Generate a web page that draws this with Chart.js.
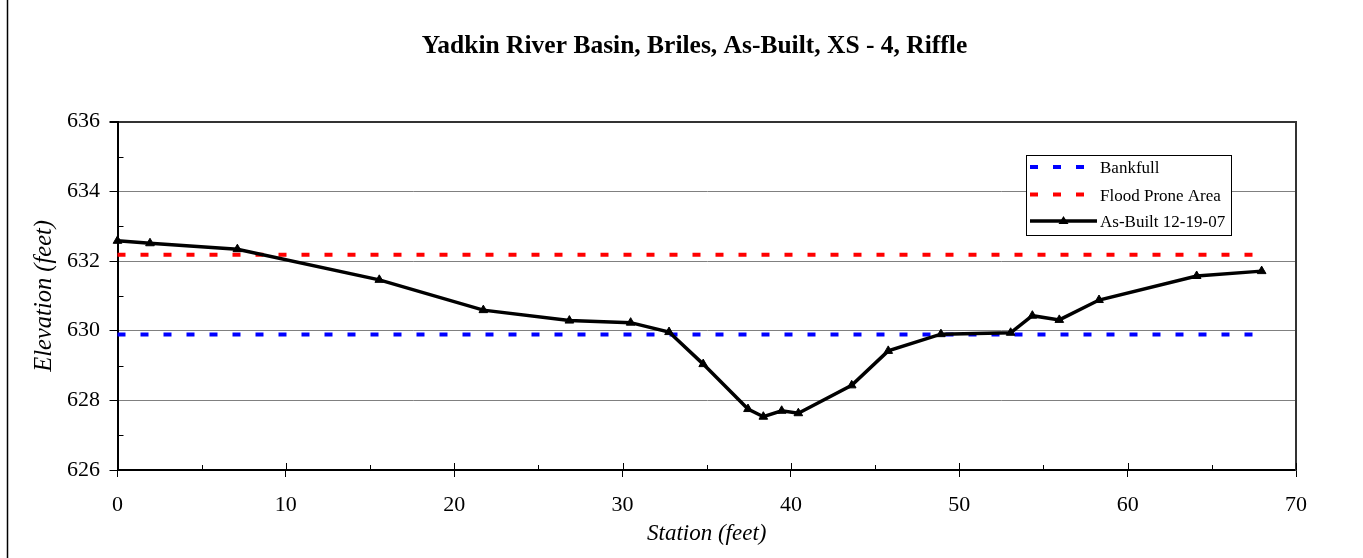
<!DOCTYPE html>
<html><head><meta charset="utf-8">
<script src="https://cdn.jsdelivr.net/npm/chart.js@4.4.1/dist/chart.umd.min.js"></script>
<style>html,body{margin:0;padding:0;background:#fff}canvas{display:block}</style>
</head><body>
<canvas id="c" width="1363" height="558"></canvas>
<script>
// ---- data ----
const chartTitle = 'Yadkin River Basin, Briles, As-Built, XS - 4, Riffle';
const stations = [0, 1.93, 7.12, 15.55, 21.73, 26.84, 30.48, 32.76, 34.79, 37.45, 38.36, 39.45, 40.44, 43.61, 45.78, 48.91, 53.05, 54.34, 55.94, 58.30, 64.10, 67.96];
const elevations = [632.58, 632.51, 632.34, 631.46, 630.59, 630.29, 630.23, 629.96, 629.04, 627.75, 627.53, 627.70, 627.63, 628.43, 629.42, 629.90, 629.94, 630.43, 630.31, 630.88, 631.57, 631.71];
const bankfullElev = 629.89;
const floodProneElev = 632.18;
const refLineStations = [0, 67.96];
const seriesNames = ['Bankfull', 'Flood Prone Area', 'As-Built 12-19-07'];
const xTickValues = [0, 10, 20, 30, 40, 50, 60, 70];
const xMinorTickValues = [5, 15, 25, 35, 45, 55, 65];
const yTickValues = [626, 628, 630, 632, 634, 636];
const yMinorTickValues = [627, 629, 631, 633, 635];

const FONT = "'Liberation Serif', 'Times New Roman', serif";

const asBuilt = stations.map((s, i) => ({x: s, y: elevations[i]}));
const bankfull = refLineStations.map(s => ({x: s, y: bankfullElev}));
const floodProne = refLineStations.map(s => ({x: s, y: floodProneElev}));

function triangle(ctx, cx, cy, r) {
  ctx.beginPath();
  ctx.moveTo(cx, cy - r);
  ctx.lineTo(cx + r, cy + r * 0.6);
  ctx.lineTo(cx - r, cy + r * 0.6);
  ctx.closePath();
  ctx.fill();
}

const decor = {
  id: 'decor',
  beforeDraw(chart) {
    const ctx = chart.ctx;
    ctx.save();
    ctx.fillStyle = '#fff';
    ctx.fillRect(0, 0, chart.width, chart.height);
    ctx.strokeStyle = '#000';
    ctx.lineWidth = 1.5;
    ctx.beginPath(); ctx.moveTo(7.5, 0); ctx.lineTo(7.5, chart.height); ctx.stroke();
    ctx.restore();
  },
  afterDraw(chart) {
    const ctx = chart.ctx;
    const x = chart.scales.x, y = chart.scales.y;
    ctx.save();
    ctx.strokeStyle = '#000';
    ctx.lineWidth = 1;
    xTickValues.forEach(v => {
      const px = Math.round(x.getPixelForValue(v)) + 0.5;
      ctx.beginPath(); ctx.moveTo(px, y.bottom); ctx.lineTo(px, y.bottom - 7); ctx.stroke();
    });
    xMinorTickValues.forEach(v => {
      const px = Math.round(x.getPixelForValue(v)) + 0.5;
      ctx.beginPath(); ctx.moveTo(px, y.bottom); ctx.lineTo(px, y.bottom - 5); ctx.stroke();
    });
    yMinorTickValues.forEach(v => {
      const py = Math.round(y.getPixelForValue(v)) + 0.5;
      ctx.beginPath(); ctx.moveTo(x.left, py); ctx.lineTo(x.left + 6, py); ctx.stroke();
    });

    // legend
    const bx = 1026.5, by = 155.5, bw = 205, bh = 80;
    ctx.fillStyle = '#fff';
    ctx.fillRect(bx, by, bw, bh);
    ctx.strokeStyle = '#000';
    ctx.lineWidth = 1;
    ctx.strokeRect(bx, by, bw, bh);
    const ds = chart.data.datasets;
    const order = [1, 2, 0];
    const rowsY = [167, 194.5, 221];
    const textY = [169, 196.5, 222.5];
    order.forEach((di, k) => {
      const d = ds[di];
      ctx.save();
      ctx.strokeStyle = d.borderColor;
      ctx.lineWidth = d.borderWidth;
      ctx.setLineDash(d.borderDash || []);
      ctx.beginPath(); ctx.moveTo(1030, rowsY[k]); ctx.lineTo(1097, rowsY[k]); ctx.stroke();
      ctx.restore();
      if (d.pointRadius > 0) {
        ctx.fillStyle = d.pointBackgroundColor;
        triangle(ctx, 1063.5, rowsY[k], 5);
      }
      ctx.fillStyle = '#000';
      ctx.font = '17px ' + FONT;
      ctx.textBaseline = 'middle';
      ctx.textAlign = 'left';
      ctx.fillText(d.label, 1100, textY[k]);
    });
    ctx.restore();
  }
};

new Chart(document.getElementById('c'), {
  type: 'line',
  data: {
    datasets: [
      {
        label: seriesNames[2], data: asBuilt, order: 0,
        borderColor: '#000', borderWidth: 3.5, pointStyle: 'triangle', pointRadius: 5,
        pointBackgroundColor: '#000', pointBorderColor: '#000', pointBorderWidth: 1,
        tension: 0, clip: false
      },
      {
        label: seriesNames[0], data: bankfull, order: 1,
        borderColor: '#0000ff', borderWidth: 4, borderDash: [8, 15], pointRadius: 0,
        pointBackgroundColor: '#0000ff', clip: false
      },
      {
        label: seriesNames[1], data: floodProne, order: 2,
        borderColor: '#ff0000', borderWidth: 4, borderDash: [8, 15], pointRadius: 0,
        pointBackgroundColor: '#ff0000', clip: false
      }
    ]
  },
  options: {
    responsive: false,
    animation: false,
    devicePixelRatio: 1,
    layout: {padding: {left: 26, right: 0, top: 0, bottom: 0}},
    plugins: {
      legend: {display: false},
      tooltip: {enabled: false},
      title: {
        display: true, text: chartTitle, color: '#000',
        font: {family: FONT, size: 25.5, weight: 'bold'},
        padding: {top: 30.7, bottom: 60.4}
      }
    },
    scales: {
      x: {
        type: 'linear', position: 'bottom', min: 0, max: 70,
        afterFit(s) { s.height = 88; },
        afterBuildTicks(s) { s.ticks = xTickValues.map(v => ({value: v})); },
        ticks: {color: '#000', font: {family: FONT, size: 22}, padding: 14.8, maxRotation: 0, autoSkip: false},
        grid: {display: true, drawOnChartArea: false, drawTicks: true, tickLength: 7, color: '#000', tickColor: '#000'},
        border: {display: true, color: '#000', width: 2},
        title: {display: true, text: 'Station (feet)', color: '#000',
          font: {family: FONT, size: 23, style: 'italic'}, padding: {top: 0, bottom: 10.2}}
      },
      y: {
        type: 'linear', position: 'left', min: 626, max: 636,
        afterFit(s) { s.width = 91.5; },
        afterBuildTicks(s) { s.ticks = yTickValues.map(v => ({value: v})); },
        ticks: {color: '#000', font: {family: FONT, size: 22}, padding: 9.5},
        grid: {
          drawTicks: true, tickLength: 8, tickColor: '#000',
          color: c => (c.tick && c.tick.value === 636) ? '#333' : '#808080',
          lineWidth: c => (c.tick && c.tick.value === 636) ? 2 : 1
        },
        border: {display: true, color: '#000', width: 2},
        title: {display: true, text: 'Elevation (feet)', color: '#000',
          font: {family: FONT, size: 24.5, style: 'italic'}, padding: {top: 3.8, bottom: 0}}
      },
      yRight: {
        type: 'linear', position: 'right', min: 626, max: 636,
        afterFit(s) { s.width = 67; },
        ticks: {display: false},
        grid: {display: false, drawOnChartArea: false, drawTicks: false},
        border: {display: true, color: '#333', width: 2}
      }
    }
  },
  plugins: [decor]
});
</script>
</body></html>
